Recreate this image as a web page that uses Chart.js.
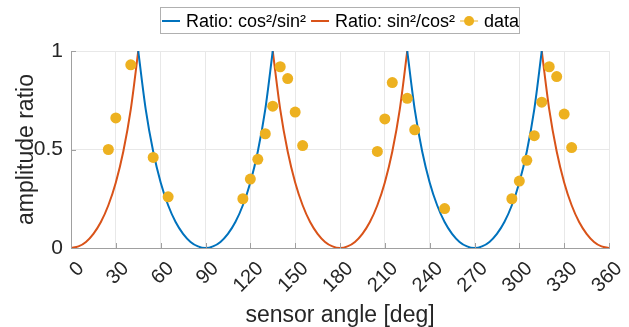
<!DOCTYPE html>
<html>
<head>
<meta charset="utf-8">
<script src="https://cdn.jsdelivr.net/npm/chart.js@4"></script>
<style>
  html, body { margin: 0; padding: 0; background: #fff; }
  #wrap { width: 629px; height: 327px; }
</style>
</head>
<body>
<div id="wrap"><canvas id="myChart" width="629" height="327"></canvas></div>
<script>
// curve sample angles (deg), every 5 degrees
const curveAngles = [0, 5, 10, 15, 20, 25, 30, 35, 40, 45, 50, 55, 60, 65, 70, 75, 80, 85, 90,
  95, 100, 105, 110, 115, 120, 125, 130, 135, 140, 145, 150, 155, 160, 165, 170, 175, 180,
  185, 190, 195, 200, 205, 210, 215, 220, 225, 230, 235, 240, 245, 250, 255, 260, 265, 270,
  275, 280, 285, 290, 295, 300, 305, 310, 315, 320, 325, 330, 335, 340, 345, 350, 355, 360];

// blue curve: cos²/sin² (only where it stays below 1)
const ratioCosSin = [null, null, null, null, null, null, null, null, null,
  1, 0.704, 0.49, 0.333, 0.217, 0.132, 0.072, 0.031, 0.008, 0,
  0.008, 0.031, 0.072, 0.132, 0.217, 0.333, 0.49, 0.704, 1,
  null, null, null, null, null, null, null, null, null, null, null, null, null, null, null, null, null,
  1, 0.704, 0.49, 0.333, 0.217, 0.132, 0.072, 0.031, 0.008, 0,
  0.008, 0.031, 0.072, 0.132, 0.217, 0.333, 0.49, 0.704, 1,
  null, null, null, null, null, null, null, null, null];

// orange curve: sin²/cos²
const ratioSinCos = [0, 0.008, 0.031, 0.072, 0.132, 0.217, 0.333, 0.49, 0.704, 1,
  null, null, null, null, null, null, null, null, null, null, null, null, null, null, null, null, null,
  1, 0.704, 0.49, 0.333, 0.217, 0.132, 0.072, 0.031, 0.008, 0,
  0.008, 0.031, 0.072, 0.132, 0.217, 0.333, 0.49, 0.704, 1,
  null, null, null, null, null, null, null, null, null, null, null, null, null, null, null, null, null,
  1, 0.704, 0.49, 0.333, 0.217, 0.132, 0.072, 0.031, 0.008, 0];

// measured points
const dataAngles = [25, 30, 40, 55, 65, 115, 120, 125, 130, 135, 140, 145, 150, 155,
  205, 210, 215, 225, 230, 250, 295, 300, 305, 310, 315, 320, 325, 330, 335];
const dataRatios = [0.50, 0.66, 0.93, 0.46, 0.26, 0.25, 0.35, 0.45, 0.58, 0.72, 0.92, 0.86, 0.69, 0.52,
  0.49, 0.655, 0.84, 0.76, 0.60, 0.20, 0.25, 0.34, 0.445, 0.57, 0.74, 0.92, 0.87, 0.68, 0.51];

const xTicks = [0, 30, 60, 90, 120, 150, 180, 210, 240, 270, 300, 330, 360];
const yTicks = [0, 0.5, 1];
const yTickLabels = ['0', '0.5', '1'];

const legendNames = ['Ratio: cos²/sin²', 'Ratio: sin²/cos²', 'data'];

const BLUE = '#0072BD';
const ORANGE = '#D95319';
const YELLOW = '#EDB120';
const FONT = "'Liberation Sans', Arial, sans-serif";

function toPoints(xs, ys) {
  return xs.map((x, i) => ({ x: x, y: ys[i] }));
}

// inward tick marks like the original plot
const innerTicks = {
  id: 'innerTicks',
  afterDatasetsDraw(chart) {
    const ctx = chart.ctx;
    const area = chart.chartArea;
    const xs = chart.scales.x;
    const ys = chart.scales.y;
    ctx.save();
    ctx.strokeStyle = '#a0a0a0';
    ctx.lineWidth = 1;
    ctx.beginPath();
    xTicks.forEach(v => {
      const px = Math.round(xs.getPixelForValue(v)) + 0.5;
      ctx.moveTo(px, area.bottom);
      ctx.lineTo(px, area.bottom - 5);
    });
    yTicks.forEach(v => {
      const py = Math.round(ys.getPixelForValue(v)) + 0.5;
      ctx.moveTo(area.left, py);
      ctx.lineTo(area.left + 5, py);
    });
    ctx.stroke();
    ctx.restore();
  }
};

// boxed legend on top
const boxLegend = {
  id: 'boxLegend',
  afterDraw(chart) {
    const ctx = chart.ctx;
    ctx.save();
    ctx.fillStyle = '#fff';
    ctx.fillRect(160.5, 7.5, 359, 26);
    ctx.strokeStyle = '#b0b0b0';
    ctx.lineWidth = 1;
    ctx.strokeRect(160.5, 7.5, 359, 26);
    ctx.font = '18px ' + FONT;
    ctx.textBaseline = 'middle';
    ctx.fillStyle = '#000';
    const cy = 21;
    let x = 162;
    const colors = [BLUE, ORANGE, YELLOW];
    legendNames.forEach((name, i) => {
      ctx.strokeStyle = colors[i];
      ctx.lineWidth = i === 2 ? 1 : 2;
      ctx.beginPath();
      ctx.moveTo(x, cy);
      ctx.lineTo(x + 18, cy);
      ctx.stroke();
      if (i === 2) {
        ctx.fillStyle = YELLOW;
        ctx.beginPath();
        ctx.arc(x + 9, cy, 5, 0, Math.PI * 2);
        ctx.fill();
      }
      x += 24;
      ctx.fillStyle = '#000';
      ctx.fillText(name, x, cy + 1);
      x += ctx.measureText(name).width + 5;
    });
    ctx.restore();
  }
};

const chartData = {
  datasets: [
    {
      type: 'scatter',
      label: legendNames[2],
      data: toPoints(dataAngles, dataRatios),
      backgroundColor: YELLOW,
      borderWidth: 0,
      pointRadius: 5.5,
      order: 0
    },
    {
      type: 'line',
      label: legendNames[0],
      data: toPoints(curveAngles, ratioCosSin),
      borderColor: BLUE,
      borderWidth: 2,
      pointRadius: 0,
      cubicInterpolationMode: 'monotone',
      spanGaps: false,
      order: 1
    },
    {
      type: 'line',
      label: legendNames[1],
      data: toPoints(curveAngles, ratioSinCos),
      borderColor: ORANGE,
      borderWidth: 2,
      pointRadius: 0,
      cubicInterpolationMode: 'monotone',
      spanGaps: false,
      order: 2
    }
  ]
};

const config = {
  data: chartData,
  options: {
    responsive: false,
    animation: false,
    layout: { padding: { top: 51, right: 20, left: 0, bottom: 0 } },
    plugins: {
      legend: { display: false },
      tooltip: { enabled: false }
    },
    scales: {
      x: {
        type: 'linear',
        min: 0,
        max: 360,
        afterBuildTicks: scale => { scale.ticks = xTicks.map(v => ({ value: v })); },
        afterFit: scale => { scale.height = 79; scale.paddingLeft = 0; scale.paddingRight = 0; },
        grid: { color: '#e8e8e8', drawTicks: false },
        border: { color: '#a0a0a0', width: 1 },
        ticks: {
          autoSkip: false,
          minRotation: 45,
          maxRotation: 45,
          padding: 9,
          labelOffset: 10,
          color: '#262626',
          font: { family: FONT, size: 20 }
        },
        title: {
          display: true,
          text: 'sensor angle [deg]',
          color: '#262626',
          font: { family: FONT, size: 23 },
          padding: { top: 0, bottom: -2 }
        }
      },
      y: {
        type: 'linear',
        min: 0,
        max: 1,
        afterBuildTicks: scale => { scale.ticks = yTicks.map(v => ({ value: v })); },
        afterFit: scale => { scale.width = 71; },
        grid: { color: '#e8e8e8', drawTicks: false },
        border: { color: '#a0a0a0', width: 1 },
        ticks: {
          padding: 8,
          color: '#262626',
          font: { family: FONT, size: 21 },
          callback: (value, index) => yTickLabels[index]
        },
        title: {
          display: true,
          text: 'amplitude ratio',
          color: '#262626',
          font: { family: FONT, size: 23 },
          padding: { top: 13, bottom: 0 }
        }
      }
    }
  },
  plugins: [innerTicks, boxLegend]
};

const myChart = new Chart(document.getElementById('myChart'), config);
</script>
</body>
</html>
